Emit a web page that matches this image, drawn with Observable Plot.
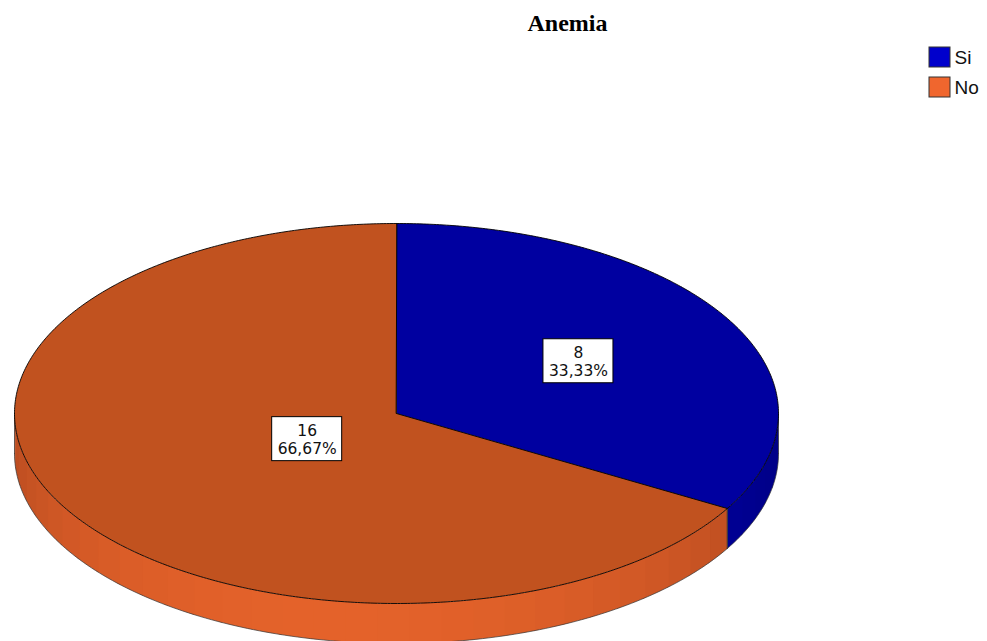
<!DOCTYPE html>
<html><head><meta charset="utf-8">
<script src="https://cdn.jsdelivr.net/npm/d3@7"></script>
<script src="https://cdn.jsdelivr.net/npm/@observablehq/plot@0.6"></script>
<style>body{margin:0;background:#fff;overflow:hidden;}</style>
</head><body><div id="chart"></div>
<script>
// ---- data ----
const title = "Anemia";
const categories = ["Si", "No"];
const counts = [8, 16];
const percentLabels = ["33,33%", "66,67%"];

// ---- layout / style ----
const W = 987, H = 641;
const geom = {cx: 396, cy: 413, rx: 382, ry: 190, depth: 40};
const topColors = ["#0000A0", "#C1521F"];
const sideDark = ["#000088", "#AE461D"];
const sideLight = ["#0000A8", "#E4622A"];
const legendColors = ["#0000CC", "#F0662E"];
const labelRadius = [0.55, 0.27];
const lightAngle = 190 * Math.PI / 180;

const pie = d3.pie().sort(null).value(d => d)(counts);
const P = (a, dy = 0) => ({x: geom.cx + geom.rx * Math.sin(a), y: geom.cy - geom.ry * Math.cos(a) + dy});

// top faces
const topPts = [];
pie.forEach((s, i) => {
  const key = "top" + i;
  topPts.push({key, fill: topColors[i], x: geom.cx, y: geom.cy});
  const n = Math.max(2, Math.ceil((s.endAngle - s.startAngle) / (Math.PI / 360)));
  for (let k = 0; k <= n; k++) {
    const a = s.startAngle + (s.endAngle - s.startAngle) * k / n;
    topPts.push({key, fill: topColors[i], ...P(a)});
  }
});

// side bands (front half only)
const sidePts = [];
const step = Math.PI / 36;
const overlap = Math.PI / 300;
const front0 = Math.PI / 2, front1 = 3 * Math.PI / 2;
const edges = [];
pie.forEach((s, i) => {
  const a0 = Math.max(s.startAngle, front0), a1 = Math.min(s.endAngle, front1);
  if (a1 <= a0) return;
  const nb = Math.ceil((a1 - a0) / step);
  const interp = d3.interpolateRgb(sideDark[i], sideLight[i]);
  for (let k = 0; k < nb; k++) {
    const b0 = a0 + (a1 - a0) * k / nb;
    const b1 = Math.min(a1, a0 + (a1 - a0) * (k + 1) / nb + overlap);
    const m = (b0 + b1) / 2;
    const t = Math.max(0, Math.cos(m - lightAngle));
    const c = interp(t);
    const key = `side${i}-${k}`;
    const sub = 6;
    const top = [], bot = [];
    for (let j = 0; j <= sub; j++) {
      const a = b0 + (b1 - b0) * j / sub;
      top.push(P(a)); bot.push(P(a, geom.depth));
    }
    [...top, ...bot.reverse()].forEach(p => sidePts.push({key, fill: c, ...p}));
  }
  [a0, a1].forEach((a, j) => {
    const key = `edge${i}-${j}`;
    edges.push({key, ...P(a)}, {key, ...P(a, geom.depth)});
  });
});
// bottom rim
const nr = 180;
for (let k = 0; k <= nr; k++) {
  const a = front0 + (front1 - front0) * k / nr;
  edges.push({key: "rim", ...P(a, geom.depth)});
}

// labels
const labels = pie.map((s, i) => {
  const m = (s.startAngle + s.endAngle) / 2;
  const f = labelRadius[i];
  return {
    x: geom.cx + geom.rx * f * Math.sin(m),
    y: geom.cy - geom.ry * f * Math.cos(m),
    text: `${counts[i]}\n${percentLabels[i]}`
  };
});

const legend = categories.map((c, i) => ({name: c, color: legendColors[i], i}));

const chart = Plot.plot({
  width: W, height: H, margin: 0,
  style: {background: "white", overflow: "visible"},
  x: {domain: [0, W], range: [0, W], axis: null},
  y: {domain: [0, H], range: [0, H], axis: null},
  color: {type: "identity"},
  marks: [
    Plot.line(sidePts, {x: "x", y: "y", z: "key", fill: "fill", stroke: null, curve: "linear-closed"}),
    Plot.line(edges, {x: "x", y: "y", z: "key", stroke: "#333", strokeWidth: 0.7, curve: "linear"}),
    Plot.line(topPts, {x: "x", y: "y", z: "key", fill: "fill", stroke: "black", strokeWidth: 0.9, curve: "linear-closed"}),
    Plot.rect(labels, {x1: d => d.x - 35, x2: d => d.x + 35, y1: d => d.y - 22, y2: d => d.y + 22, fill: "white", stroke: "black", strokeWidth: 1}),
    Plot.text(labels, {x: "x", y: "y", text: "text", fontSize: 15.5, lineHeight: 1.17, fontFamily: "DejaVu Sans", fill: "#111"}),
    Plot.text([title], {x: () => 567, y: () => 23, text: d => d, fontSize: 24, fontWeight: "bold", fontFamily: "Liberation Serif", fill: "black"}),
    Plot.rect(legend, {x1: () => 929, x2: () => 950, y1: d => 47 + 30 * d.i, y2: d => 67 + 30 * d.i, fill: "color", stroke: "#333", strokeWidth: 1}),
    Plot.text(legend, {x: () => 954, y: d => 57.5 + 30 * d.i, text: "name", textAnchor: "start", fontSize: 19, fontFamily: "Liberation Sans", fill: "#111"})
  ]
});
document.getElementById("chart").append(chart);
</script>
</body></html>
